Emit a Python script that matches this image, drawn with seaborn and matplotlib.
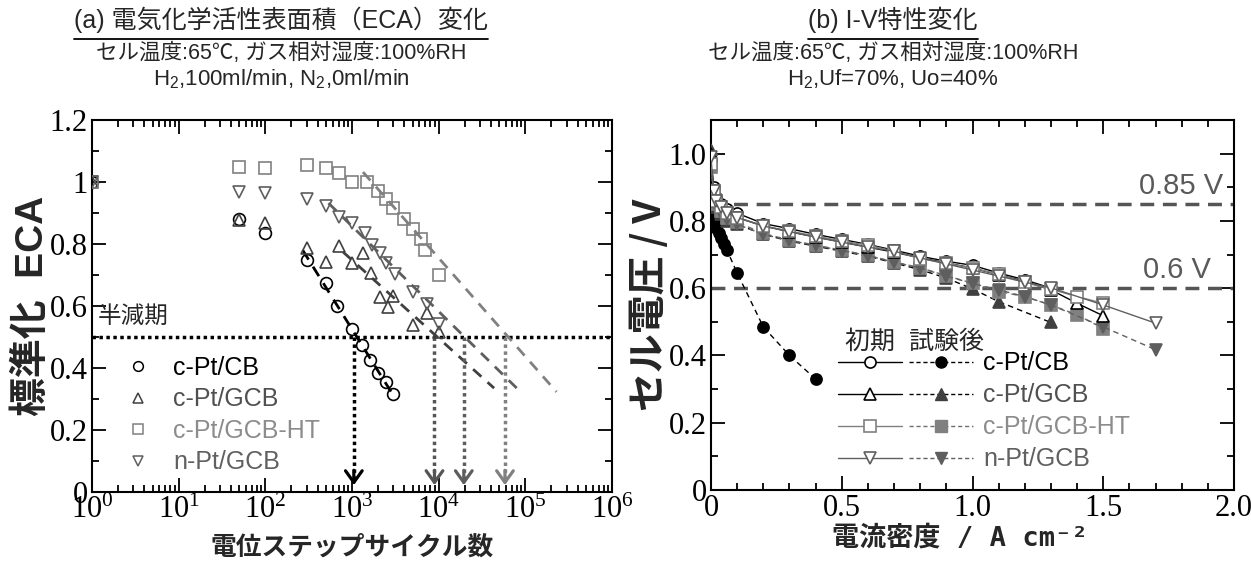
import matplotlib
matplotlib.use("Agg")
import matplotlib.pyplot as plt
import seaborn as sns
from matplotlib.lines import Line2D
from matplotlib.legend_handler import HandlerTuple
from matplotlib.ticker import MultipleLocator, FixedLocator, FixedFormatter, LogLocator, NullFormatter, FormatStrFormatter

# ── (a) ECA vs potential-step cycles ───────────────────────────────────────
cb_cyc = [1, 50, 100, 300, 500, 680, 1000, 1300, 1600, 2000, 2500, 3000]
cb_eca = [1.0, 0.88, 0.835, 0.748, 0.674, 0.60, 0.526, 0.474, 0.426, 0.384, 0.355, 0.316]

gcb_cyc = [1, 50, 100, 300, 500, 700, 1000, 1350, 1650, 2100, 2600, 3000, 5100, 7300, 10000]
gcb_eca = [1.0, 0.877, 0.868, 0.787, 0.742, 0.794, 0.739, 0.771, 0.706, 0.629, 0.597, 0.632, 0.539, 0.577, 0.516]

ht_cyc = [1, 50, 100, 300, 500, 700, 1000, 1500, 2000, 2500, 3000, 4000, 5000, 6200, 7000, 10000]
ht_eca = [1.0, 1.048, 1.045, 1.055, 1.045, 1.03, 1.0, 1.0, 0.97, 0.945, 0.917, 0.88, 0.85, 0.816, 0.78, 0.70]

npt_cyc = [1, 50, 100, 300, 500, 700, 1000, 1400, 1700, 2100, 2500, 3100, 5100, 7300, 10000]
npt_eca = [1.0, 0.968, 0.965, 0.945, 0.922, 0.887, 0.868, 0.835, 0.797, 0.771, 0.739, 0.703, 0.645, 0.606, 0.542]

# linear-in-log fits (end points)
cb_fit_x, cb_fit_y = [270, 3100], [0.78, 0.305]
gcb_fit_x, gcb_fit_y = [790, 43600], [0.774, 0.335]
ht_fit_x, ht_fit_y = [1340, 229000], [1.032, 0.323]
npt_fit_x, npt_fit_y = [535, 91000], [0.932, 0.319]

half_life_level = 0.5
half_life_cyc = [1050, 8950, 19500, 58200]   # CB, GCB, n-Pt, HT

# ── (b) I-V curves ─────────────────────────────────────────────────────────
cb_i0 = [0, 0.01, 0.02, 0.04, 0.06, 0.1, 0.2, 0.3, 0.4, 0.5, 0.6, 0.7, 0.8, 0.9, 1.0, 1.1, 1.2, 1.3]
cb_v0 = [0.98, 0.90, 0.87, 0.85, 0.835, 0.823, 0.792, 0.777, 0.760, 0.745, 0.730, 0.713, 0.695, 0.680, 0.668, 0.645, 0.625, 0.600]

gcb_i0 = [0, 0.01, 0.02, 0.04, 0.06, 0.1, 0.2, 0.3, 0.4, 0.5, 0.6, 0.7, 0.8, 0.9, 1.0, 1.1, 1.2, 1.3, 1.4, 1.5]
gcb_v0 = [1.0, 0.89, 0.86, 0.84, 0.825, 0.81, 0.785, 0.768, 0.752, 0.737, 0.722, 0.707, 0.690, 0.675, 0.660, 0.640, 0.620, 0.595, 0.555, 0.518]

ht_i0 = [0, 0.01, 0.02, 0.04, 0.06, 0.1, 0.2, 0.3, 0.4, 0.5, 0.6, 0.7, 0.8, 0.9, 1.0, 1.1, 1.2, 1.3, 1.4, 1.5]
ht_v0 = [0.97, 0.89, 0.86, 0.84, 0.825, 0.81, 0.785, 0.77, 0.755, 0.74, 0.728, 0.71, 0.688, 0.674, 0.66, 0.641, 0.617, 0.597, 0.575, 0.555]

npt_i0 = [0, 0.01, 0.02, 0.04, 0.06, 0.1, 0.2, 0.3, 0.4, 0.5, 0.6, 0.7, 0.8, 0.9, 1.0, 1.1, 1.2, 1.3, 1.5, 1.7]
npt_v0 = [0.99, 0.89, 0.86, 0.84, 0.825, 0.81, 0.785, 0.768, 0.752, 0.737, 0.722, 0.710, 0.690, 0.672, 0.654, 0.636, 0.618, 0.601, 0.550, 0.496]

cb_i1 = [0, 0.01, 0.02, 0.03, 0.04, 0.05, 0.06, 0.1, 0.2, 0.3, 0.4]
cb_v1 = [0.825, 0.80, 0.78, 0.765, 0.75, 0.73, 0.715, 0.645, 0.485, 0.40, 0.33]

gcb_i1 = [0, 0.01, 0.02, 0.04, 0.06, 0.1, 0.2, 0.3, 0.4, 0.5, 0.6, 0.7, 0.8, 0.9, 1.0, 1.1, 1.3]
gcb_v1 = [1.01, 0.87, 0.84, 0.82, 0.80, 0.79, 0.76, 0.74, 0.725, 0.71, 0.695, 0.675, 0.655, 0.63, 0.598, 0.56, 0.498]

ht_i1 = [0, 0.01, 0.02, 0.04, 0.06, 0.1, 0.2, 0.3, 0.4, 0.5, 0.6, 0.7, 0.8, 0.9, 1.0, 1.1, 1.2, 1.3, 1.4, 1.5]
ht_v1 = [0.96, 0.88, 0.85, 0.83, 0.81, 0.796, 0.763, 0.743, 0.728, 0.713, 0.698, 0.678, 0.661, 0.637, 0.615, 0.59, 0.575, 0.55, 0.521, 0.48]

npt_i1 = [0, 0.01, 0.02, 0.04, 0.06, 0.1, 0.2, 0.3, 0.4, 0.5, 0.6, 0.7, 0.8, 0.9, 1.0, 1.1, 1.2, 1.3, 1.5, 1.7]
npt_v1 = [0.98, 0.875, 0.845, 0.825, 0.805, 0.79, 0.76, 0.742, 0.727, 0.712, 0.697, 0.677, 0.66, 0.636, 0.614, 0.595, 0.575, 0.55, 0.485, 0.417]

ref_volts = [0.85, 0.6]
ref_labels = ["0.85 V", "0.6 V"]

names = ["c-Pt/CB", "c-Pt/GCB", "c-Pt/GCB-HT", "n-Pt/GCB"]

# ── Styling ────────────────────────────────────────────────────────────────
sns.set_style("ticks")
plt.rcParams.update({
    "font.family": ["Liberation Sans", "Noto Sans CJK JP"],
    "mathtext.fontset": "stix",
    "mathtext.rm": "Liberation Sans",
    "mathtext.it": "Liberation Sans:italic",
    "mathtext.bf": "Liberation Sans:bold",
    "axes.linewidth": 1.5,
    "axes.edgecolor": "black",
    "xtick.color": "black",
    "ytick.color": "black",
})

COL = {"c-Pt/CB": "#000000", "c-Pt/GCB": "#404040", "c-Pt/GCB-HT": "#808080", "n-Pt/GCB": "#5e5e5e"}
TXT = {"c-Pt/CB": "#000000", "c-Pt/GCB": "#505050", "c-Pt/GCB-HT": "#8c8c8c", "n-Pt/GCB": "#606060"}
MRK = {"c-Pt/CB": "o", "c-Pt/GCB": "^", "c-Pt/GCB-HT": "s", "n-Pt/GCB": "v"}

W, H = 1251, 561
fig = plt.figure(figsize=(W / 100, H / 100), dpi=100)
ax1 = fig.add_axes([92 / W, 1 - 492 / H, 520 / W, 372 / H])
ax2 = fig.add_axes([711 / W, 1 - 490 / H, 523 / W, 370 / H])


def draw(ax, x, y, name, face, ls="", lw=1.0, lc=None, ms=8, z=3):
    c = COL[name]
    sns.lineplot(x=x, y=y, ax=ax, color=lc or c, linestyle=ls, linewidth=lw,
                 marker=MRK[name], markersize=ms, markerfacecolor=face,
                 markeredgecolor=c, markeredgewidth=1.2,
                 estimator=None, sort=False, legend=False, zorder=z)


# ── Panel (a) ──────────────────────────────────────────────────────────────
ax1.set_xscale("log")
ax1.axhline(half_life_level, color="black", ls=(0, (1, 1)), lw=2.5, zorder=2)

fits = [(cb_fit_x, cb_fit_y, "c-Pt/CB"), (gcb_fit_x, gcb_fit_y, "c-Pt/GCB"),
        (ht_fit_x, ht_fit_y, "c-Pt/GCB-HT"), (npt_fit_x, npt_fit_y, "n-Pt/GCB")]
for fx, fy, n in fits:
    sns.lineplot(x=fx, y=fy, ax=ax1, color=COL[n], linestyle=(0, (4, 3)), linewidth=2,
                 estimator=None, sort=False, legend=False, zorder=2)

for xc, n in zip(half_life_cyc, ["c-Pt/CB", "c-Pt/GCB", "n-Pt/GCB", "c-Pt/GCB-HT"]):
    c = COL[n] if n != "c-Pt/GCB" else "#555555"
    ax1.plot([xc, xc], [half_life_level, 0.04], color=c, ls=(0, (1, 1)), lw=2.5, zorder=2)
    ax1.annotate("", xy=(xc, 0.022), xytext=(xc, 0.07),
                 arrowprops=dict(arrowstyle="->,head_length=0.42,head_width=0.3",
                                 color=c, lw=2.3, mutation_scale=20, shrinkA=0, shrinkB=0))

for x, y, n in [(cb_cyc, cb_eca, "c-Pt/CB"), (gcb_cyc, gcb_eca, "c-Pt/GCB"),
                (ht_cyc, ht_eca, "c-Pt/GCB-HT"), (npt_cyc, npt_eca, "n-Pt/GCB")]:
    draw(ax1, x, y, n, face="none", ms=8.5)

ax1.text(1.17, 0.565, "半減期", fontsize=17, va="center", ha="left")

ax1.set_xlim(1, 1e6)
ax1.set_ylim(0, 1.2)
ax1.xaxis.set_major_locator(LogLocator(base=10, numticks=10))
ax1.xaxis.set_minor_locator(LogLocator(base=10, subs=range(2, 10), numticks=20))
ax1.xaxis.set_minor_formatter(NullFormatter())
ax1.yaxis.set_major_locator(MultipleLocator(0.2))
ax1.yaxis.set_minor_locator(MultipleLocator(0.1))
ax1.yaxis.set_major_formatter(FormatStrFormatter("%g"))

h1 = [Line2D([], [], ls="", marker=MRK[n], ms=7, mfc="none", mec=COL[n], mew=1.1) for n in names]
leg1 = ax1.legend(h1, names, loc="upper left", bbox_to_anchor=(0.065, 0.366), frameon=False,
                  fontsize=18, handlelength=1.0, handletextpad=0.9, labelspacing=0.3,
                  borderpad=0, borderaxespad=0)
for t, n in zip(leg1.get_texts(), names):
    t.set_color(TXT[n])

ax1.set_xlabel("電位ステップサイクル数", fontsize=18.5, fontweight="bold",
               family="Noto Sans CJK JP", labelpad=6)
ax1.set_ylabel("標準化  ECA", fontsize=28, fontweight="bold", labelpad=-1)

# ── Panel (b) ──────────────────────────────────────────────────────────────
for v, lab in zip(ref_volts, ref_labels):
    ax2.axhline(v, color="#555555", ls=(0, (4, 2.5)), lw=2.5, zorder=1)
    xr = 1.96 if v > 0.7 else 1.91
    ax2.text(xr, v + 0.012, lab, fontsize=21, color="#5a5a5a", ha="right", va="bottom")

after = [(cb_i1, cb_v1, "c-Pt/CB", "#000000"), (gcb_i1, gcb_v1, "c-Pt/GCB", "#000000"),
         (ht_i1, ht_v1, "c-Pt/GCB-HT", "#707070"), (npt_i1, npt_v1, "n-Pt/GCB", "#606060")]
for x, y, n, lc in after:
    draw(ax2, x, y, n, face=COL[n], ls=(0, (4, 3)), lw=1.0, lc=lc, ms=8, z=3)

initial = [(cb_i0, cb_v0, "c-Pt/CB", "#000000"), (gcb_i0, gcb_v0, "c-Pt/GCB", "#000000"),
           (ht_i0, ht_v0, "c-Pt/GCB-HT", "#808080"), (npt_i0, npt_v0, "n-Pt/GCB", "#606060")]
for x, y, n, lc in initial:
    c = "#000000" if n == "c-Pt/GCB" else COL[n]
    sns.lineplot(x=x, y=y, ax=ax2, color=lc, linestyle="-", linewidth=1.0,
                 marker=MRK[n], markersize=8, markerfacecolor="white",
                 markeredgecolor=c, markeredgewidth=1.2,
                 estimator=None, sort=False, legend=False, zorder=4)

ax2.set_xlim(0, 2.0)
ax2.set_ylim(0, 1.1)
ax2.xaxis.set_major_locator(FixedLocator([0, 0.5, 1.0, 1.5, 2.0]))
ax2.xaxis.set_major_formatter(FixedFormatter(["0", "0.5", "1.0", "1.5", "2.0"]))
ax2.xaxis.set_minor_locator(MultipleLocator(0.1))
ax2.yaxis.set_major_locator(FixedLocator([0, 0.2, 0.4, 0.6, 0.8, 1.0]))
ax2.yaxis.set_major_formatter(FixedFormatter(["0", "0.2", "0.4", "0.6", "0.8", "1.0"]))
ax2.yaxis.set_minor_locator(MultipleLocator(0.1))

h2 = []
for (_, _, n, lc0), (_, _, _, lc1) in zip(initial, after):
    c0 = "#000000" if n == "c-Pt/GCB" else COL[n]
    hi = Line2D([], [], color=lc0, ls="-", lw=1.0, marker=MRK[n], ms=8, mfc="white", mec=c0, mew=1.2)
    ha = Line2D([], [], color=lc1, ls=(0, (3, 2)), lw=1.0, marker=MRK[n], ms=8, mfc=COL[n], mec=COL[n])
    h2.append((hi, ha))
leg2 = ax2.legend(h2, names, handler_map={tuple: HandlerTuple(ndivide=None, pad=0.3)},
                  loc="upper left", bbox_to_anchor=(0.243, 0.375), frameon=False, fontsize=18,
                  handlelength=5.4, handletextpad=0.4, labelspacing=0.32, borderpad=0,
                  borderaxespad=0)
for t, n in zip(leg2.get_texts(), names):
    t.set_color(TXT[n])
ax2.text(0.256, 0.40, "初期  試験後", transform=ax2.transAxes, fontsize=18,
         ha="left", va="center")

ax2.set_xlabel("電流密度 / A cm⁻²", fontsize=19.5, fontweight="bold",
               family=["DejaVu Sans Mono", "Noto Sans CJK JP"])
ax2.xaxis.set_label_coords(0.476, -0.095)
ax2.set_ylabel("セル電圧 / V", fontsize=28, fontweight="bold",
               family="Noto Sans CJK JP", labelpad=0)

for ax in (ax1, ax2):
    ax.tick_params(which="both", direction="in", top=True, right=True, width=1.3,
                   labelsize=22, labelfontfamily="Liberation Serif", pad=3)
    ax.tick_params(which="major", length=10)
    ax.tick_params(which="minor", length=5)
    for s in ax.spines.values():
        s.set_linewidth(1.5)

# ── Titles ─────────────────────────────────────────────────────────────────
ta = fig.text(281 / W, 1 - 20 / H, "(a) 電気化学活性表面積（ECA）変化", fontsize=18,
              ha="center", va="center")
fig.text(281 / W, 1 - 53 / H, "セル温度:65℃, ガス相対湿度:100%RH", fontsize=15.5,
         ha="center", va="center")
fig.text(281 / W, 1 - 79 / H, "H$_2$,100ml/min, N$_2$,0ml/min", fontsize=16,
         ha="center", va="center", family="Liberation Sans", math_fontfamily="custom")

tb = fig.text(893 / W, 1 - 20 / H, "(b) I-V特性変化", fontsize=18, ha="center", va="center")
fig.text(893 / W, 1 - 53 / H, "セル温度:65℃, ガス相対湿度:100%RH", fontsize=15.5,
         ha="center", va="center")
fig.text(893 / W, 1 - 79 / H, "H$_2$,Uf=70%, Uo=40%", fontsize=16,
         ha="center", va="center", family="Liberation Sans", math_fontfamily="custom")

fig.canvas.draw()
rend = fig.canvas.get_renderer()
for t in (ta, tb):
    bb = t.get_window_extent(rend).transformed(fig.transFigure.inverted())
    yl = 1 - 39 / H
    fig.add_artist(Line2D([bb.x0, bb.x1], [yl, yl], transform=fig.transFigure,
                          color="black", lw=1.3))

fig.savefig("out.png", dpi=100)
